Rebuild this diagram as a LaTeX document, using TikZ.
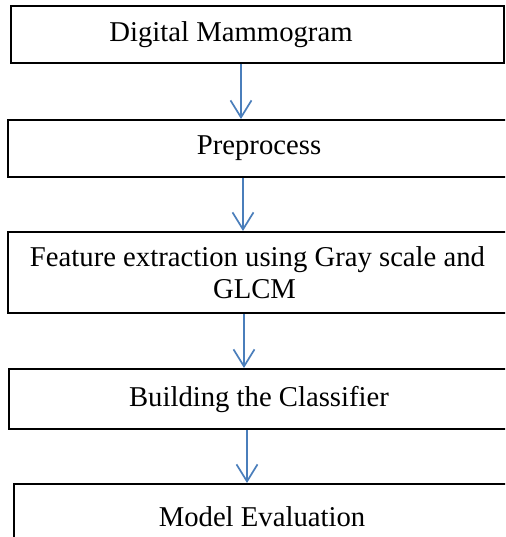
\documentclass[tikz,border=0pt]{standalone}
\usepackage{fontspec}
\setmainfont{Liberation Serif}
\usepackage{tikz}
\usetikzlibrary{arrows.meta, positioning}
\usepackage{xcolor}
\definecolor{ArrowBlue}{RGB}{74,126,187}

\begin{document}
\begin{tikzpicture}[
          x=1pt, y=-1pt,
          stage/.style={rectangle, draw=black, line width=2pt, inner sep=0pt, font=\fontsize{28.7}{32}\selectfont, align=center},
          link/.style={ArrowBlue, line width=1.7pt, -{Straight Barb[length=17pt, width=21pt]}}
        ]
          \clip (0,0) rectangle (505,537);
          \useasboundingbox (0,0) rectangle (505,537);

          \node (mammo) [stage, anchor=north west, minimum width=493pt, minimum height=57pt] at (10,5) {\hspace*{-53pt}Digital Mammogram};
          \node (prep) [stage, below=55pt of mammo.south west, anchor=north west, xshift=-3pt, minimum width=502pt, minimum height=57pt] {Preprocess};
          \node (feat) [stage, below=53pt of prep.south west, anchor=north west, minimum width=499pt, minimum height=81pt] {Feature extraction using Gray scale and\\\hspace*{-6pt}GLCM};
          \node (build) [stage, below=54pt of feat.south west, anchor=north west, xshift=1pt, minimum width=500pt, minimum height=60pt] {Building the Classifier};
          \node (evalu) [stage, below=53pt of build.south west, anchor=north west, xshift=5pt, minimum width=496pt, minimum height=66pt] {Model Evaluation};

          \draw[link] ([xshift=-16.5pt]mammo.south) -- ([xshift=-16.5pt]mammo.south |- prep.north);
          \draw[link] ([xshift=-16pt]prep.south) -- ([xshift=-16pt]prep.south |- feat.north);
          \draw[link] ([xshift=-13.5pt]feat.south) -- ([xshift=-13.5pt]feat.south |- build.north);
          \draw[link] ([xshift=-12pt]build.south) -- ([xshift=-12pt]build.south |- evalu.north);
        \end{tikzpicture}
\end{document}
